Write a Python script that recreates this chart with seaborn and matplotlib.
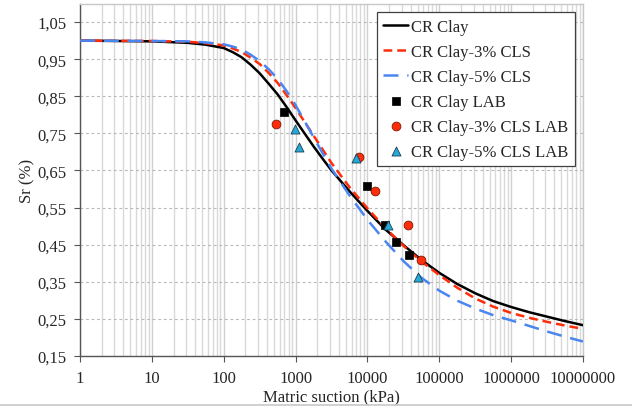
import numpy as np
import pandas as pd
import seaborn as sns
import matplotlib.pyplot as plt
from matplotlib.ticker import FuncFormatter, LogLocator, FixedLocator
from matplotlib.lines import Line2D

log_suction = [0, 1.0, 1.5, 1.75, 2.0, 2.125, 2.25, 2.375, 2.5, 2.625, 2.75, 2.875,
               3.0, 3.125, 3.25, 3.375, 3.5, 3.75, 4.0, 4.25, 4.5, 4.75, 5.0,
               5.25, 5.5, 5.75, 6.0, 6.25, 6.5, 6.75, 7.0]

sr_clay = [1.000, 0.998, 0.994, 0.989, 0.980, 0.969, 0.955, 0.935, 0.912, 0.884,
           0.855, 0.821, 0.785, 0.750, 0.715, 0.682, 0.650, 0.594, 0.541, 0.491,
           0.449, 0.409, 0.374, 0.344, 0.319, 0.298, 0.282, 0.268, 0.256, 0.244, 0.233]
sr_cls3 = [1.000, 0.999, 0.997, 0.993, 0.987, 0.979, 0.969, 0.954, 0.937, 0.913,
           0.886, 0.853, 0.818, 0.781, 0.744, 0.707, 0.670, 0.605, 0.548, 0.495,
           0.447, 0.405, 0.368, 0.334, 0.305, 0.283, 0.266, 0.253, 0.242, 0.232, 0.223]
sr_cls5 = [1.000, 0.999, 0.998, 0.995, 0.990, 0.984, 0.976, 0.962, 0.945, 0.923,
           0.897, 0.864, 0.826, 0.783, 0.740, 0.697, 0.655, 0.583, 0.517, 0.459,
           0.406, 0.361, 0.326, 0.299, 0.278, 0.260, 0.246, 0.231, 0.216, 0.202, 0.189]

# laboratory points
lab_clay_x = [687, 9980, 17500, 25200, 38100]
lab_clay_y = [0.807, 0.609, 0.503, 0.457, 0.421]
lab_cls3_x = [535, 7540, 12650, 36500, 55500]
lab_cls3_y = [0.775, 0.687, 0.596, 0.502, 0.408]
lab_cls5_x = [990, 1105, 6820, 19060, 50300]
lab_cls5_y = [0.762, 0.712, 0.684, 0.502, 0.362]

curvas = pd.DataFrame({'s': np.power(10.0, log_suction), 'clay': sr_clay,
                       'cls3': sr_cls3, 'cls5': sr_cls5})

sns.set_style('ticks')
plt.rcParams['font.family'] = ['Liberation Serif', 'DejaVu Serif']
plt.rcParams['font.size'] = 12

fig = plt.figure(figsize=(6.32, 4.10), dpi=100)
ax = fig.add_axes([0.1266, 0.1293, 0.7959, 0.8597])

rojo = '#ff2d0a'
azul = '#4a86f0'
cian = '#27a9d6'

sns.lineplot(data=curvas, x='s', y='clay', ax=ax, color='black', lw=1.8,
             label='CR Clay', zorder=4)
sns.lineplot(data=curvas, x='s', y='cls3', ax=ax, color=rojo, lw=1.8,
             linestyle=(0, (3.5, 2)), label='CR Clay-3% CLS', zorder=4)
sns.lineplot(data=curvas, x='s', y='cls5', ax=ax, color=azul, lw=1.8,
             linestyle=(0, (6, 3.5)), label='CR Clay-5% CLS', zorder=4)

sns.scatterplot(x=lab_clay_x, y=lab_clay_y, ax=ax, marker='s', s=36, color='black',
                edgecolor='black', linewidth=0.5, label='CR Clay LAB', zorder=5)
sns.scatterplot(x=lab_cls3_x, y=lab_cls3_y, ax=ax, marker='o', s=40, color=rojo,
                edgecolor='#7a1a00', linewidth=0.6, label='CR Clay-3% CLS LAB', zorder=5)
sns.scatterplot(x=lab_cls5_x, y=lab_cls5_y, ax=ax, marker='^', s=42, color=cian,
                edgecolor='#1c3f55', linewidth=0.6, label='CR Clay-5% CLS LAB', zorder=5)

ax.set_xscale('log')
ax.set_xlim(1, 1e7)
ax.set_ylim(0.15, 1.10)

ax.xaxis.set_major_locator(LogLocator(base=10, numticks=10))
ax.xaxis.set_minor_locator(LogLocator(base=10, subs=np.arange(2, 10), numticks=100))
ax.xaxis.set_major_formatter(FuncFormatter(lambda v, p: '{:d}'.format(int(round(v)))))
ax.yaxis.set_major_locator(FixedLocator(np.round(np.arange(0.15, 1.06, 0.1), 2)))
ax.yaxis.set_major_formatter(FuncFormatter(lambda v, p: '{:.2f}'.format(v).replace('.', ',')))

ax.grid(which='major', axis='x', color='#d0d0d0', lw=1.0, ls='-')
ax.grid(which='minor', axis='x', color='#d9d9d9', lw=1.0, ls='-')
ax.grid(which='major', axis='y', color='#b8b8b8', lw=0.8, ls=(0, (2.5, 2.5)))
ax.set_axisbelow(True)

ax.tick_params(axis='both', which='major', length=4, width=0.8, color='#555555',
               labelsize=12, pad=6)
ax.tick_params(axis='x', which='minor', length=0)

for lado in ['left', 'bottom']:
    ax.spines[lado].set_color('#555555')
    ax.spines[lado].set_linewidth(1.0)
for lado in ['top', 'right']:
    ax.spines[lado].set_color('#c8c8c8')
    ax.spines[lado].set_linewidth(1.0)

ax.set_xlabel('Matric suction (kPa)', fontsize=12, labelpad=2)
ax.set_ylabel('Sr (%)', fontsize=12, labelpad=1)

leg = ax.legend(loc='upper right', fontsize=12, frameon=True, fancybox=False,
                edgecolor='#404040', framealpha=1, handlelength=1.5,
                handletextpad=0.15, labelspacing=0.54, borderpad=0.4)
leg.get_frame().set_linewidth(0.9)

# borde inferior del área del gráfico
fig.add_artist(Line2D([0, 1], [0.01, 0.01], color='#c8c8c8', lw=1.2))

plt.savefig('out.png', dpi=100)
